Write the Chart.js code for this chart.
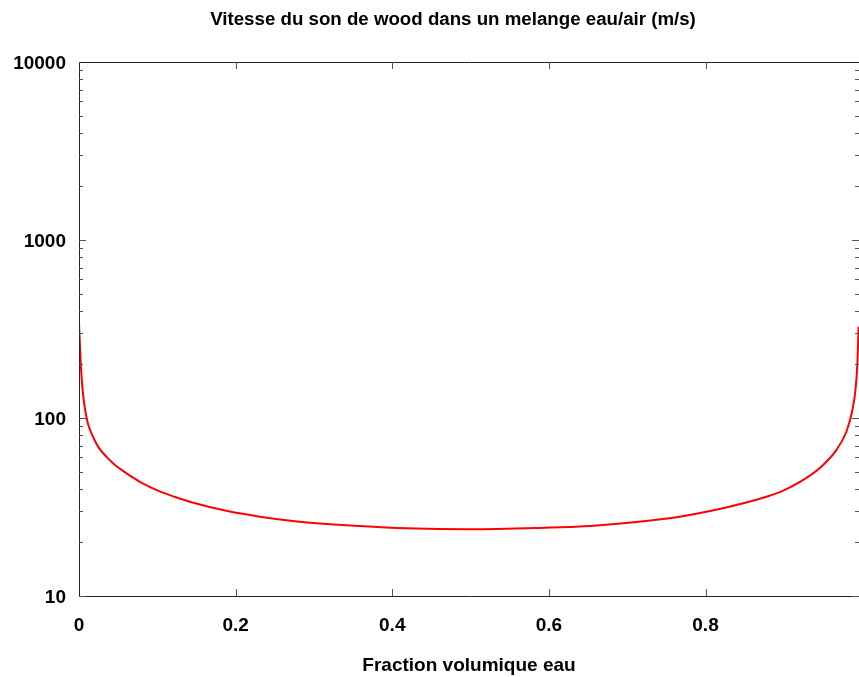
<!DOCTYPE html>
<html>
<head>
<meta charset="utf-8">
<script src="https://cdn.jsdelivr.net/npm/chart.js@4/dist/chart.umd.min.js"></script>
<style>
    html, body { margin: 0; padding: 0; background: #fff; }
    #wrap { width: 859px; height: 677px; }
</style>
</head>
<body>
<div id="wrap"><canvas id="woodChart" width="859" height="677"></canvas></div>
<script>
// valeurs
var fraction = [0, 0.002, 0.005, 0.0094, 0.012, 0.016, 0.02, 0.024, 0.03, 0.037, 0.046, 0.058, 0.068,
    0.08, 0.103, 0.122, 0.146, 0.188, 0.231, 0.273, 0.316, 0.358, 0.418, 0.499, 0.588, 0.639, 0.665,
    0.724, 0.767, 0.809, 0.852, 0.882, 0.895, 0.92, 0.946, 0.967, 0.98, 0.987, 0.9916, 0.994, 0.9955];
var vitesse = [343, 212, 138, 102, 91, 82, 75, 69.5, 64, 59.3, 54.5, 49.8, 46.5,
    43.2, 38.7, 36.1, 33.4, 30.1, 27.9, 26.4, 25.4, 24.7, 24.0, 23.7, 24.1, 24.55, 24.95,
    26.4, 27.9, 30.2, 33.5, 36.6, 38.3, 43.6, 52.4, 66, 84, 108, 145, 205, 326];

var xTickValues = [0, 0.2, 0.4, 0.6, 0.8];
var xTickLabels = ['0', '0.2', '0.4', '0.6', '0.8'];
var yTickValues = [10, 100, 1000, 10000];
var yTickLabels = ['10', '100', '1000', '10000'];

var titre = 'Vitesse du son de wood dans un melange eau/air (m/s)';
var titreX = 'Fraction volumique eau';

var police = "'Liberation Sans', Arial, sans-serif";

// cadre + petits traits vers l'interieur (comme gnuplot)
var cadrePlugin = {
    id: 'cadre',
    afterDraw: function (chart) {
        var ctx = chart.ctx;
        var a = chart.chartArea;
        var xs = chart.scales.x;
        var ys = chart.scales.y;
        ctx.save();
        ctx.strokeStyle = '#222';
        ctx.lineWidth = 1;
        ctx.beginPath();
        ctx.rect(a.left + 0.5, a.top + 0.5, a.right - a.left, a.bottom - a.top);
        ctx.stroke();

        ctx.strokeStyle = '#555';
        ctx.beginPath();
        for (var d = 10; d < 10000; d *= 10) {
            for (var k = 1; k < 10; k++) {
                var py = Math.round(ys.getPixelForValue(d * k)) + 0.5;
                var len = k === 1 ? 7 : 4;
                ctx.moveTo(a.left, py);
                ctx.lineTo(a.left + len, py);
                ctx.moveTo(a.right, py);
                ctx.lineTo(a.right - len, py);
            }
        }
        for (var i = 1; i < xTickValues.length; i++) {
            var px = Math.round(xs.getPixelForValue(xTickValues[i])) + 0.5;
            ctx.moveTo(px, a.bottom);
            ctx.lineTo(px, a.bottom - 7);
            ctx.moveTo(px, a.top);
            ctx.lineTo(px, a.top + 7);
        }
        ctx.stroke();

        ctx.fillStyle = '#000';
        ctx.font = 'bold 18.7px ' + police;
        ctx.textAlign = 'center';
        ctx.textBaseline = 'middle';
        ctx.fillText(titre, 453, 20);
        ctx.restore();
    }
};

function initChart() {
    var canvas = document.getElementById('woodChart');
    var ctx = canvas.getContext('2d');

    var points = [];
    for (var i = 0; i < fraction.length; i++) {
        points.push({ x: fraction[i], y: vitesse[i] });
    }

    var data = {
        datasets: [{
            data: points,
            borderColor: '#ff0000',
            borderWidth: 2,
            pointRadius: 0,
            fill: false,
            showLine: true,
            cubicInterpolationMode: 'monotone'
        }]
    };

    var options = {
        responsive: false,
        animation: false,
        devicePixelRatio: 1,
        layout: { padding: { top: 62, right: 0, left: 0, bottom: 0 } },
        plugins: {
            legend: { display: false },
            tooltip: { enabled: false }
        },
        scales: {
            x: {
                type: 'linear',
                min: 0,
                max: 0.996,
                grid: { display: false, drawTicks: false },
                border: { display: false },
                afterBuildTicks: function (scale) {
                    scale.ticks = xTickValues.map(function (v) { return { value: v }; });
                },
                afterFit: function (scale) { scale.height = 81; },
                ticks: {
                    autoSkip: false,
                    maxRotation: 0,
                    padding: 18,
                    color: '#000',
                    font: { family: police, size: 19, weight: 'bold' },
                    callback: function (value, index) { return xTickLabels[index]; }
                },
                title: {
                    display: true,
                    text: titreX,
                    color: '#000',
                    font: { family: police, size: 19, weight: 'bold' },
                    padding: { top: 12, bottom: 0 }
                }
            },
            y: {
                type: 'logarithmic',
                min: 10,
                max: 10000,
                grid: { display: false, drawTicks: false },
                border: { display: false },
                afterBuildTicks: function (scale) {
                    scale.ticks = yTickValues.map(function (v) { return { value: v }; });
                },
                afterFit: function (scale) { scale.width = 79; },
                ticks: {
                    autoSkip: false,
                    padding: 13,
                    labelOffset: 2,
                    color: '#000',
                    font: { family: police, size: 19, weight: 'bold' },
                    callback: function (value, index) { return yTickLabels[index]; }
                }
            }
        }
    };

    var chart = new Chart(ctx, {
        type: 'scatter',
        data: data,
        options: options,
        plugins: [cadrePlugin]
    });
}

initChart();
</script>
</body>
</html>
